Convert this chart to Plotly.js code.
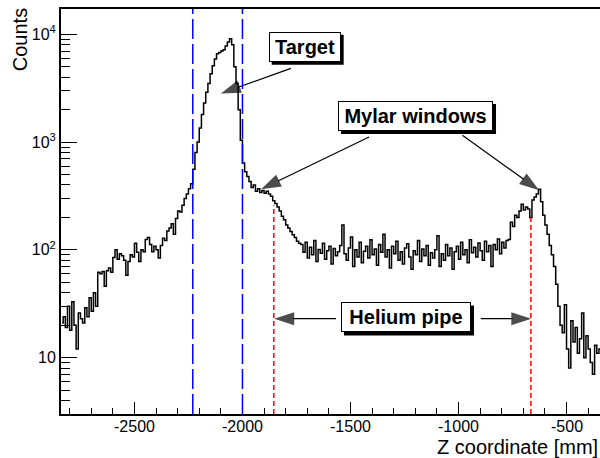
<!DOCTYPE html>
<html><head><meta charset="utf-8">
<script src="https://cdn.plot.ly/plotly-3.0.1.min.js"></script>
<style>html,body{margin:0;padding:0;background:#fff;overflow:hidden}#chart{width:600px;height:458px}</style>
</head><body><div id="chart"></div>
<script>
// Histogram binning (10 mm bins starting at -2840 mm)
const binStart = -2840;
const binWidth = 10;
const counts = [
 21, 24, 19, 30, 18, 33, 20, 12, 26, 23, 21, 29, 24, 36, 27, 40, 30,
 62, 60, 63, 46, 64, 68, 62,
 85, 100, 82, 92, 88, 80, 58, 78, 90, 86,
 115, 95, 78, 100, 96, 125, 130, 112, 96, 108, 100, 84, 110, 128, 122, 150, 160, 175, 140,
 195, 230, 225, 260, 300, 330, 370, 410, 560,
 800, 1000, 1350, 1800, 2300, 2900, 3500, 4300, 5100, 5900, 6600, 6800, 7000, 7200, 7800, 8500, 9100,
 8000, 5000, 3500, 2000, 1040, 640, 530, 480, 430, 380, 400, 350, 370, 340, 355, 335, 350, 330,
 315, 285, 270, 250, 230, 205, 190, 170, 160, 148, 138, 130, 120, 115,
 112, 95, 118, 84, 106, 90, 122, 78, 101, 93, 115, 82, 98, 108, 74, 103, 88, 96, 110, 170,
 92, 80, 104, 132, 70, 100, 86, 118, 76, 97, 108, 84, 124, 90, 102, 72, 112, 95, 140, 86,
 100, 68, 108, 92, 120, 80, 96, 74, 104, 114, 86, 66, 98, 90, 122, 78, 102, 88, 110, 72,
 94, 84, 100, 135, 70, 92, 80, 112, 88, 104, 66, 96, 108, 82, 118, 90, 100, 76, 124, 94,
 106, 86, 116, 98, 80, 120, 96, 110, 70, 112, 100, 126, 92, 118, 104, 122,
 125, 180, 165, 210, 200, 230, 265, 235, 250, 240, 200, 290, 310, 330, 365, 280, 210, 170, 140, 110, 90, 70, 48, 30,
 20, 17, 31, 12, 8, 22, 14, 19, 11, 15, 26, 10, 16, 12, 9, 7, 13, 11, 12
];

// Marker lines
const targetLines = [-2230, -2000];
const pipeLines = [-1855, -665];
const pipeTops = [259, 200];

// Axis ticks
const xTickVals = [-2500, -2000, -1500, -1000, -500];
const xTickText = ['-2500', '-2000', '-1500', '-1000', '-500'];
const xMinorVals = [-2800,-2700,-2600,-2400,-2300,-2200,-2100,-1900,-1800,-1700,-1600,-1400,-1300,-1200,-1100,-900,-800,-700,-600,-400];
const yTickVals = [10, 100, 1000, 10000];
const yTickText = ['10', '10<sup>2</sup>', '10<sup>3</sup>', '10<sup>4</sup>'];
const yMinorVals = [4,5,6,7,8,9,20,30,40,50,60,70,80,90,200,300,400,500,600,700,800,900,2000,3000,4000,5000,6000,7000,8000,9000];

// Labels and arrows
const labelText = ['Target', 'Mylar windows', 'Helium pipe'];
const labelX = [-1712, -1199, -1243];
const labelY = [7680, 1742, 23.6];
const labelW = [68, 151, 126];
const arrowTailX = [-1776, -1414, -982, -1567, -897];
const arrowTailY = [4830, 1117, 1159, 23.0, 23.0];
const arrowHeadX = [-2100, -1914, -627, -1853, -663];
const arrowHeadY = [2830, 365, 357, 23.0, 23.0];

const yRange = [Math.log10(3), 4.235];
const toPaperY = v => (Math.log10(v) - yRange[0]) / (yRange[1] - yRange[0]);
const FONT = 'Liberation Sans, Arial, Helvetica, sans-serif';

const xCenters = counts.map((_, i) => binStart + binWidth * (i + 0.5));

const traces = [];
traces.push({
  x: xCenters, y: counts, type: 'scatter', mode: 'lines',
  line: {shape: 'hvh', color: '#000', width: 1.5}, hoverinfo: 'skip', showlegend: false
});
pipeLines.forEach((xv, i) => {
  traces.push({
    x: [xv, xv], y: [3, pipeTops[i]], type: 'scatter', mode: 'lines',
    line: {color: '#ff0000', width: 1.5, dash: '5px,3px'}, showlegend: false, hoverinfo: 'skip'
  });
});
arrowTailX.forEach((tx, i) => {
  traces.push({
    x: [tx, arrowHeadX[i]], y: [arrowTailY[i], arrowHeadY[i]], type: 'scatter', mode: 'lines+markers',
    line: {color: '#000', width: 1.2},
    marker: {symbol: ['circle', 'arrow'], size: [0, 21], angleref: 'previous', color: '#000', line: {width: 0}},
    showlegend: false, hoverinfo: 'skip', cliponaxis: false
  });
});

const shapes = targetLines.map(xv => ({
  type: 'line', xref: 'x', yref: 'paper', x0: xv, x1: xv, y0: 0, y1: 1,
  line: {color: '#0000ff', width: 1.5, dash: '20px,5px'}
}));
// drop shadows of the label boxes
labelText.forEach((t, i) => {
  const W = labelW[i] + 4, H = 30;
  shapes.push({
    type: 'rect', xref: 'x', yref: 'paper',
    xsizemode: 'pixel', ysizemode: 'pixel',
    xanchor: labelX[i], yanchor: toPaperY(labelY[i]),
    x0: -W / 2 + 3, x1: W / 2 + 3, y0: -H / 2 - 3, y1: H / 2 - 3,
    fillcolor: '#000', line: {width: 0}, layer: 'above'
  });
});

const annotations = [];
labelText.forEach((t, i) => {
  annotations.push({
    x: labelX[i], y: toPaperY(labelY[i]), xref: 'x', yref: 'paper', text: '<b>' + t + '</b>',
    xanchor: 'center', yanchor: 'middle',
    showarrow: false, font: {family: FONT, size: 20, color: '#000'},
    bgcolor: '#fff', bordercolor: '#000', borderwidth: 1, borderpad: 1, width: labelW[i], height: 26
  });
});
// x tick labels (drawn as text so they sit close to the axis like the original)
xTickVals.forEach((v, i) => {
  annotations.push({
    x: v, xref: 'x', y: -0.031, yref: 'paper', text: xTickText[i],
    xanchor: 'center', yanchor: 'middle', showarrow: false,
    font: {family: FONT, size: 16, color: '#000'}
  });
});
annotations.push({
  text: 'Z coordinate [mm]', xref: 'paper', yref: 'paper', x: 1, y: -0.082,
  xanchor: 'right', yanchor: 'middle', showarrow: false,
  font: {family: FONT, size: 20, color: '#000'}
});
annotations.push({
  text: 'Counts', xref: 'paper', yref: 'paper', x: -0.076, y: 0.923,
  xanchor: 'center', yanchor: 'middle', textangle: -90, showarrow: false,
  font: {family: FONT, size: 20, color: '#000'}
});

const layout = {
  width: 600, height: 458,
  margin: {l: 61, r: 0, t: 9, b: 44},
  paper_bgcolor: '#fff', plot_bgcolor: '#fff',
  font: {family: FONT, color: '#000', size: 16},
  showlegend: false,
  xaxis: {
    range: [-2840, -345], showgrid: false, zeroline: false,
    showline: true, linecolor: '#000', linewidth: 2, mirror: true,
    ticks: 'inside', ticklen: 12, tickwidth: 1, tickcolor: '#000',
    tickmode: 'array', tickvals: xTickVals, showticklabels: false,
    minor: {ticks: 'inside', ticklen: 6, tickwidth: 1, tickcolor: '#000', tickmode: 'array', tickvals: xMinorVals}
  },
  yaxis: {
    type: 'log', range: yRange, showgrid: false, zeroline: false,
    showline: true, linecolor: '#000', linewidth: 2, mirror: false,
    ticks: 'inside', ticklen: 16, tickwidth: 1, tickcolor: '#000',
    tickmode: 'array', tickvals: yTickVals, ticktext: yTickText,
    tickfont: {size: 16},
    minor: {ticks: 'inside', ticklen: 9, tickwidth: 1, tickcolor: '#000', tickmode: 'array', tickvals: yMinorVals}
  },
  shapes: shapes,
  annotations: annotations
};

Plotly.newPlot('chart', traces, layout, {staticPlot: true});
</script>
</body></html>
